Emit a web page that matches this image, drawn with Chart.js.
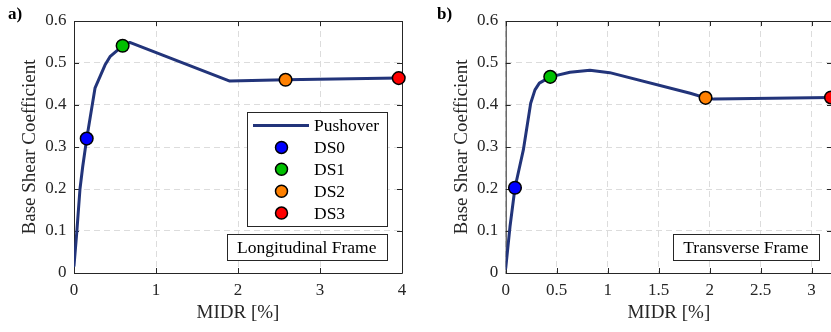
<!DOCTYPE html>
<html><head><meta charset="utf-8">
<script src="https://cdn.jsdelivr.net/npm/chart.js@4.4.1/dist/chart.umd.min.js"></script>
<style>
html,body{margin:0;padding:0;width:831px;height:332px;overflow:hidden;background:#fff}
.w{position:absolute;top:0;height:332px}
</style></head><body>
<div class="w" style="left:0;width:420px"><canvas id="c1" width="420" height="332"></canvas></div>
<div class="w" style="left:420px;width:412px"><canvas id="c2" width="412" height="332"></canvas></div>
<script>
// ---------- DATA ----------
const seriesNames = ['Pushover', 'DS0', 'DS1', 'DS2', 'DS3'];

// Panel a) Longitudinal frame
const longMidr = [0, 0.033, 0.073, 0.106, 0.155, 0.256, 0.378, 0.439, 0.593, 0.68, 1.90, 2.58, 3.96];
const longBsc  = [0.017, 0.095, 0.200, 0.253, 0.320, 0.440, 0.495, 0.515, 0.541, 0.549, 0.457, 0.460, 0.464];
const longDsMidr = [0.155, 0.593, 2.58, 3.96];
const longDsBsc  = [0.320, 0.541, 0.460, 0.464];

// Panel b) Transverse frame
const transMidr = [0, 0.042, 0.091, 0.173, 0.245, 0.287, 0.330, 0.437, 0.63, 0.826, 1.02, 1.81, 1.96, 2.04, 3.19];
const transBsc  = [0.011, 0.110, 0.203, 0.293, 0.404, 0.436, 0.452, 0.467, 0.478, 0.483, 0.477, 0.428, 0.417, 0.414, 0.418];
const transDsMidr = [0.091, 0.437, 1.96, 3.19];
const transDsBsc  = [0.203, 0.467, 0.417, 0.418];

// Tick labels
const xTicksLong  = [0, 1, 2, 3, 4];
const xTicksTrans = [0, 0.5, 1, 1.5, 2, 2.5, 3];
const yTicks      = [0, 0.1, 0.2, 0.3, 0.4, 0.5, 0.6];

// ---------- STYLE ----------
const FONT = "'Liberation Serif', 'Times New Roman', serif";
const lineColor = '#22347a';
const dsColors = ['#0000ff', '#00c000', '#ff8000', '#ff0000'];
const axisColor = '#262626';

const panelPlugin = {
  id: 'panel',
  beforeDatasetsDraw(chart, args, o) {
    const ctx = chart.ctx, a = chart.chartArea;
    const xs = chart.scales.x, ys = chart.scales.y;
    ctx.save();
    ctx.strokeStyle = axisColor; ctx.lineWidth = 1; ctx.setLineDash([]);
    ctx.beginPath();
    ctx.moveTo(a.left + 0.5, a.bottom + 0.5); ctx.lineTo(a.left + 0.5, a.top + 0.5);
    ctx.lineTo(a.right + 0.5, a.top + 0.5); ctx.lineTo(a.right + 0.5, a.bottom + 0.5);
    ctx.lineTo(a.left + 0.5, a.bottom + 0.5);
    ctx.stroke();
    const tl = 5;
    ctx.beginPath();
    xs.ticks.forEach(t => {
      const px = Math.round(xs.getPixelForValue(t.value)) + 0.5;
      ctx.moveTo(px, a.bottom); ctx.lineTo(px, a.bottom - tl);
      ctx.moveTo(px, a.top); ctx.lineTo(px, a.top + tl);
    });
    ys.ticks.forEach(t => {
      const py = Math.round(ys.getPixelForValue(t.value)) + 0.5;
      ctx.moveTo(a.left, py); ctx.lineTo(a.left + tl, py);
      ctx.moveTo(a.right, py); ctx.lineTo(a.right - tl, py);
    });
    ctx.stroke();
    ctx.restore();
  },
  afterDraw(chart, args, o) {
    const ctx = chart.ctx, a = chart.chartArea;
    ctx.save();
    // panel label
    ctx.fillStyle = '#000';
    ctx.font = 'bold 17px ' + FONT;
    ctx.textBaseline = 'middle'; ctx.textAlign = 'left';
    ctx.fillText(o.label, o.labelX, 15);
    // text box
    ctx.font = '17.5px ' + FONT;
    const tw = ctx.measureText(o.box).width;
    const bw = tw + 21, bh = 26;
    const bx = a.right - o.boxRight - bw, by = a.bottom - 13 - bh;
    ctx.fillStyle = '#fff'; ctx.fillRect(bx, by, bw, bh);
    ctx.strokeStyle = axisColor; ctx.lineWidth = 1;
    ctx.strokeRect(Math.round(bx) + 0.5, Math.round(by) + 0.5, Math.round(bw), bh);
    ctx.fillStyle = '#000'; ctx.textAlign = 'center';
    ctx.fillText(o.box, bx + bw / 2, by + bh / 2 + 1);
    // legend
    if (o.legend) {
      const lx = a.left + 173, ly = a.top + 91, lw = 140, lh = 114;
      ctx.fillStyle = '#fff'; ctx.fillRect(lx, ly, lw, lh);
      ctx.strokeStyle = axisColor;
      ctx.strokeRect(Math.round(lx) + 0.5, Math.round(ly) + 0.5, lw, lh);
      ctx.textAlign = 'left';
      chart.data.datasets.forEach((d, i) => {
        const yy = ly + 13.5 + i * 21.9;
        if (d.type === 'line') {
          ctx.strokeStyle = d.borderColor; ctx.lineWidth = 3;
          ctx.beginPath(); ctx.moveTo(lx + 6, yy); ctx.lineTo(lx + 62, yy); ctx.stroke();
        } else {
          ctx.beginPath(); ctx.arc(lx + 34.5, yy, 6, 0, Math.PI * 2);
          ctx.fillStyle = d.backgroundColor; ctx.fill();
          ctx.strokeStyle = '#000'; ctx.lineWidth = 1.5; ctx.stroke();
        }
        ctx.fillStyle = '#000';
        ctx.fillText(d.label, lx + 67, yy + 1);
      });
    }
    ctx.restore();
  }
};

function build(canvasId, midr, bsc, dsMidr, dsBsc, xTicks, xMax, cfg) {
  const datasets = [{
    type: 'line', label: seriesNames[0],
    data: midr.map((x, i) => ({x, y: bsc[i]})),
    borderColor: lineColor, borderWidth: 3, pointRadius: 0, tension: 0,
    borderJoinStyle: 'round', borderCapStyle: 'round', order: 10
  }];
  dsMidr.forEach((x, i) => datasets.push({
    type: 'scatter', label: seriesNames[i + 1],
    data: [{x, y: dsBsc[i]}],
    backgroundColor: dsColors[i], borderColor: '#000', borderWidth: 1.5,
    pointRadius: 6.3, pointHoverRadius: 6.3, order: 0, clip: false
  }));
  return new Chart(document.getElementById(canvasId), {
    data: { datasets },
    options: {
      responsive: false, animation: false, devicePixelRatio: 1,
      layout: { autoPadding: false, padding: { left: 0, top: 21, right: cfg.padRight, bottom: 0 } },
      plugins: {
        legend: { display: false }, tooltip: { enabled: false },
        panel: cfg.panel
      },
      scales: {
        x: {
          type: 'linear', min: 0, max: xMax,
          afterBuildTicks: s => { s.ticks = xTicks.map(v => ({value: v})); },
          afterFit: s => { s.height = 59; s.paddingRight = 0; },
          grid: { color: '#dcdcdc', drawTicks: false, lineWidth: 1 },
          border: { display: false, dash: [6, 4] },
          ticks: { color: axisColor, padding: 7, font: { family: FONT, size: 17 }, maxRotation: 0,
                   callback: v => String(v) },
          title: { display: true, text: 'MIDR [%]', color: axisColor,
                   font: { family: FONT, size: 19 }, padding: { top: 0, bottom: 7.6 } }
        },
        y: {
          type: 'linear', min: 0, max: 0.6,
          afterBuildTicks: s => { s.ticks = yTicks.map(v => ({value: v})); },
          afterFit: s => { s.width = cfg.yWidth; },
          grid: { color: '#dcdcdc', drawTicks: false, lineWidth: 1 },
          border: { display: false, dash: [6, 4] },
          ticks: { color: axisColor, padding: 7.4, font: { family: FONT, size: 17 },
                   callback: v => String(v) },
          title: { display: true, text: 'Base Shear Coefficient', color: axisColor,
                   font: { family: FONT, size: 19 }, padding: { top: cfg.yTitleTop, bottom: 0 } }
        }
      }
    },
    plugins: [panelPlugin]
  });
}

build('c1', longMidr, longBsc, longDsMidr, longDsBsc, xTicksLong, 4, {
  padRight: 18, yWidth: 74, yTitleTop: 18.6,
  panel: { label: 'a)', labelX: 8, box: 'Longitudinal Frame', boxRight: 15, legend: true }
});
build('c2', transMidr, transBsc, transDsMidr, transDsBsc, xTicksTrans, 3.2, {
  padRight: 0, yWidth: 85.7, yTitleTop: 30.3,
  panel: { label: 'b)', labelX: 17, box: 'Transverse Frame', boxRight: 13, legend: false }
});
</script>
</body></html>
